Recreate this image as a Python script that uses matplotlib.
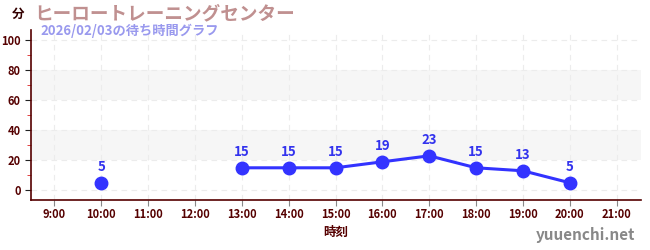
import matplotlib
matplotlib.use("Agg")
import matplotlib.pyplot as plt
import numpy as np

plt.rcParams['font.family'] = ['Noto Sans CJK JP', 'DejaVu Sans']

hours = [9, 10, 11, 12, 13, 14, 15, 16, 17, 18, 19, 20, 21]
tick_labels = [f"{h}:00" for h in hours]
times = [10, 11, 12, 13, 14, 15, 16, 17, 18, 19, 20]
waits = [5, None, None, 15, 15, 15, 19, 23, 15, 13, 5]
title = "ヒーロートレーニングセンター"
subtitle = "2026/02/03の待ち時間グラフ"

fig = plt.figure(figsize=(6.5, 2.5), dpi=100)
ax = fig.add_axes([31/650, 0.2, (641-31)/650, 0.68])

ax.set_xlim(8.5, 21.52)
ax.set_ylim(-6.5, 107)

for lo, hi in [(20, 40), (60, 80)]:
    ax.axhspan(lo, hi, color='#f6f6f6', zorder=0, lw=0)
for y in range(0, 101, 20):
    ax.axhline(y, color='#ececec', lw=0.8, ls=(0, (5, 4)), zorder=1)
for h in hours:
    ax.axvline(h, color='#ececec', lw=0.8, ls=(0, (5, 4)), zorder=1)

y = np.array([np.nan if v is None else v for v in waits], dtype=float)
ax.plot(times, y, color='#3333ff', lw=2.2, marker='o', ms=9, zorder=3)
for t, v in zip(times, waits):
    if v is not None:
        ax.annotate(str(v), (t, v), xytext=(0, 6), textcoords='offset points',
                    ha='center', va='bottom', color='#3333ee', fontsize=9.5,
                    fontweight='bold')

ax.set_xticks(hours)
ax.set_xticklabels(tick_labels)
ax.set_yticks(range(0, 101, 20))
ax.set_yticks(range(10, 101, 20), minor=True)
ax.tick_params(axis='x', colors='#888888', labelcolor='#550000', labelsize=8, length=4, pad=1.5)
ax.tick_params(axis='y', which='major', colors='#222222', labelcolor='#550000', labelsize=8, length=4)
ax.tick_params(axis='y', which='minor', colors='#dd2222', length=3)
for lab in ax.get_xticklabels() + ax.get_yticklabels():
    lab.set_fontweight('bold')

for s in ['top', 'right']:
    ax.spines[s].set_visible(False)
for s in ['left', 'bottom']:
    ax.spines[s].set_color('#550000')
    ax.spines[s].set_linewidth(1.2)

ax.set_xlabel("時刻", color='#550000', fontsize=9, fontweight='bold', labelpad=4)

fig.text(12/650, 1-14/250, "分", color='#330000', fontsize=9, fontweight='bold', va='center', ha='left')
fig.text(34/650, 1-14/250, title, color='#c09090', fontsize=13.4, fontweight='bold', va='center', ha='left')
fig.text(40/650, 1-31/250, subtitle, color='#9999ee', fontsize=9.5, fontweight='bold', va='center', ha='left')
fig.text(635/650, 1-235/250, "yuuenchi.net", color='#888888', fontsize=11, fontweight='bold', va='center', ha='right')

fig.savefig("out.png", dpi=100)
